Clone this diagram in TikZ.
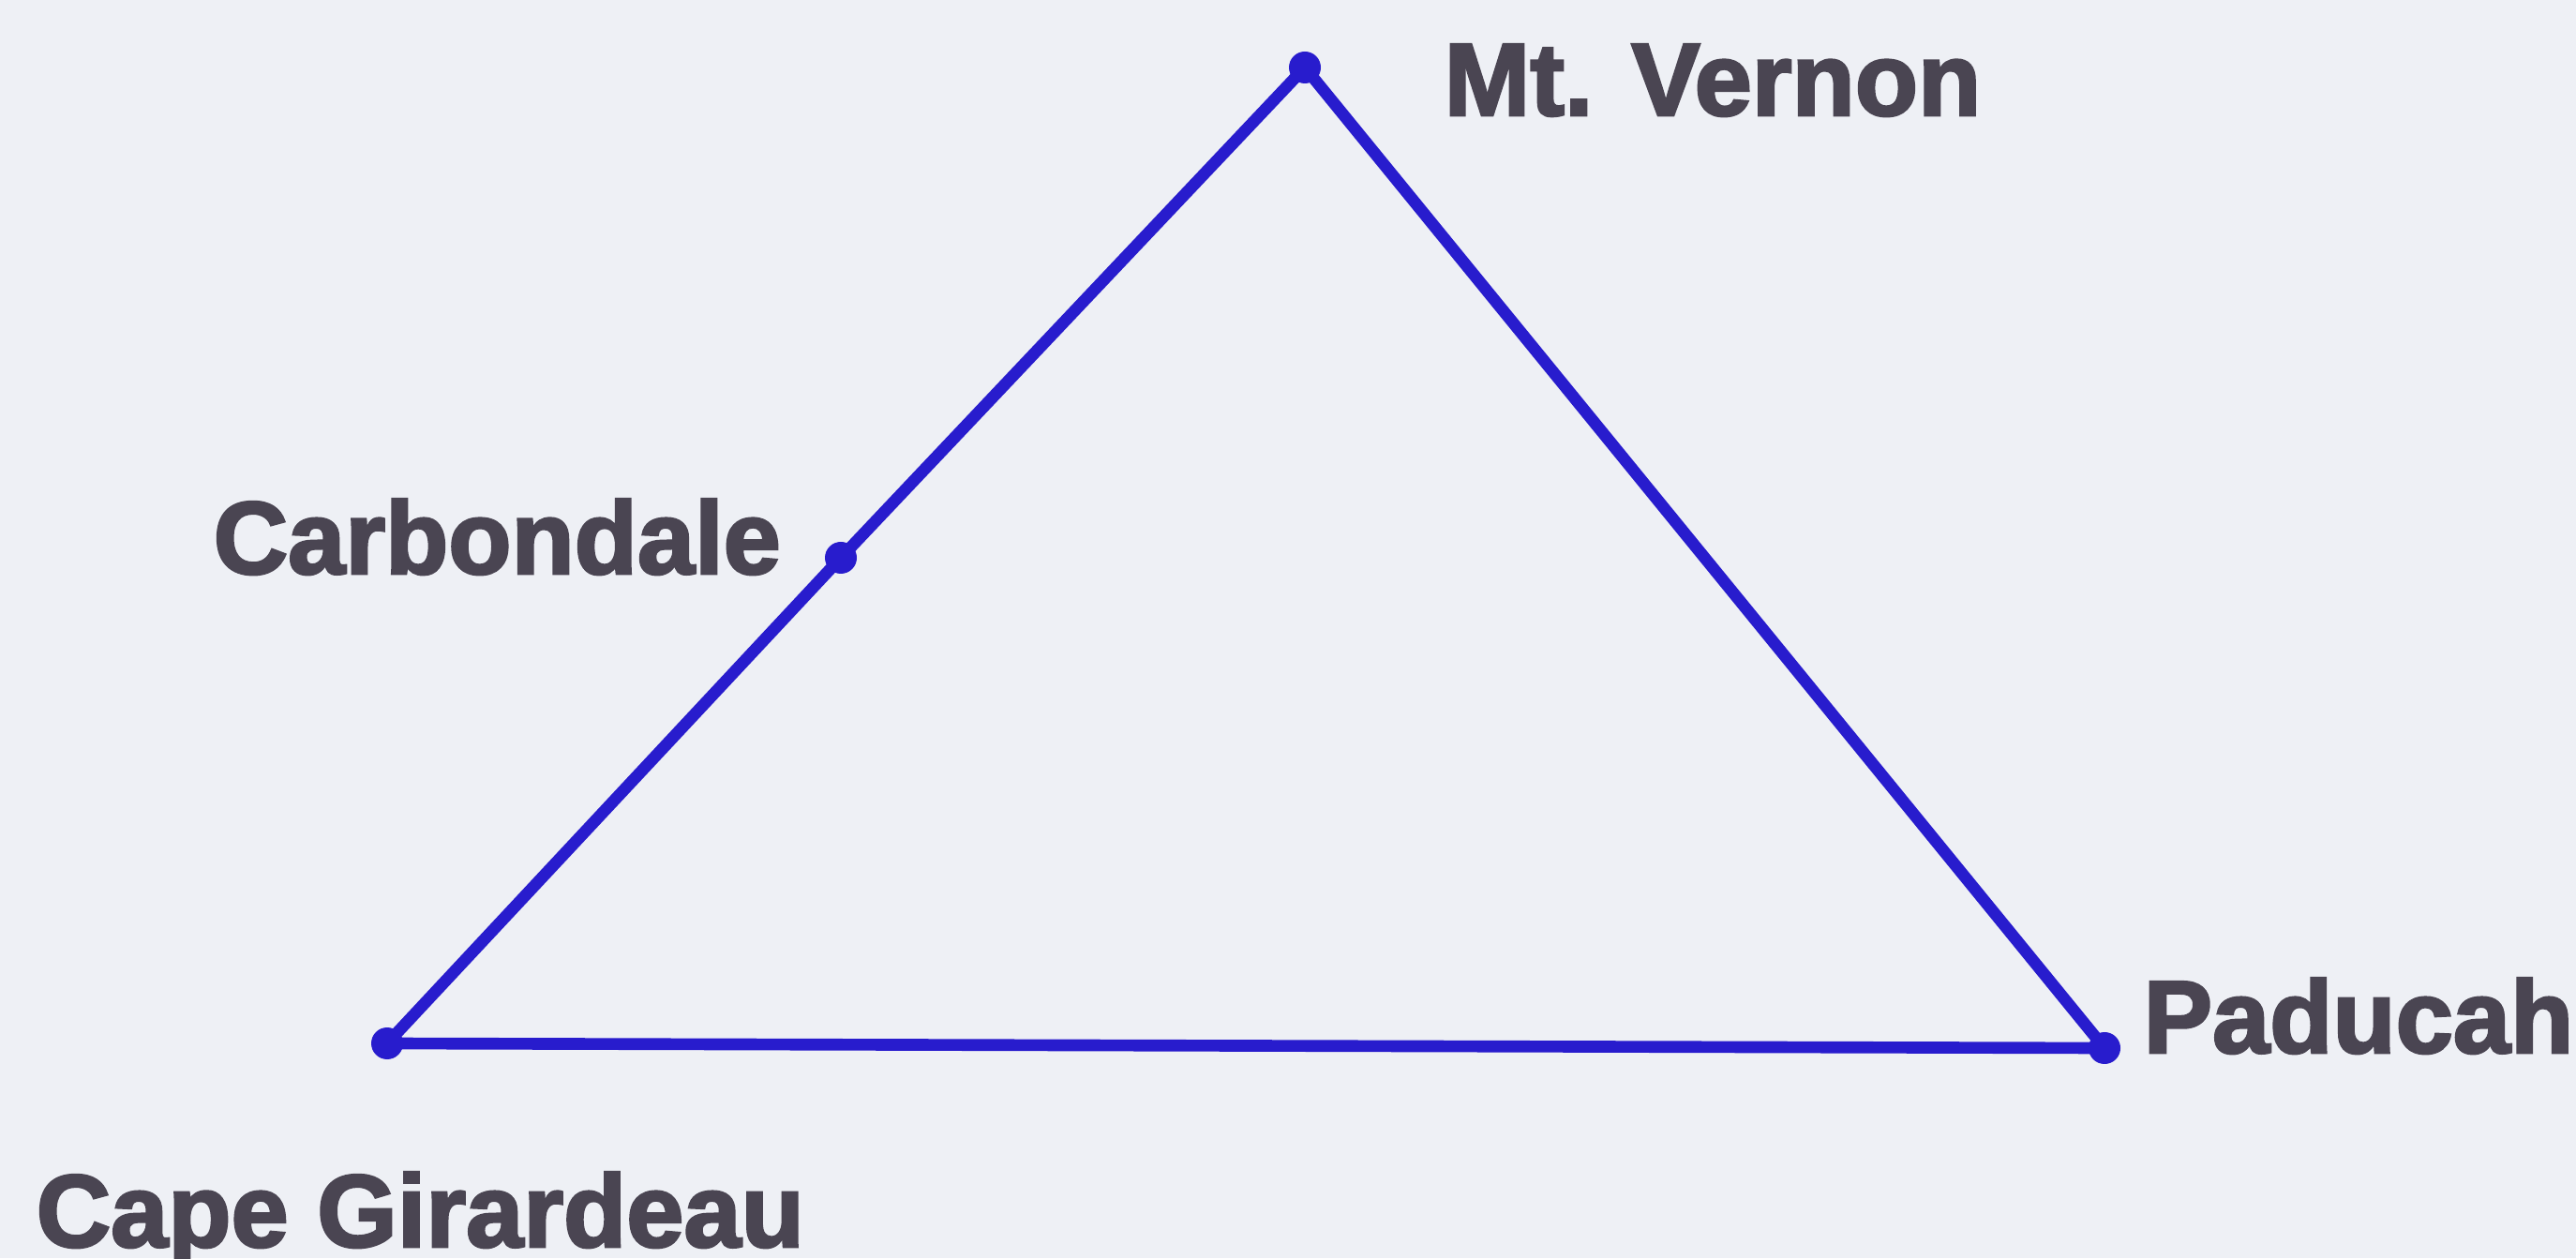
\documentclass[tikz,border=0pt]{standalone}
\usepackage{fontspec}
\setmainfont{Liberation Sans}[BoldFeatures={FakeBold=2.5}]
\definecolor{bg}{RGB}{238,240,245}
\definecolor{routeblue}{RGB}{40,28,205}
\definecolor{labelgray}{RGB}{74,69,82}
\begin{document}
\begin{tikzpicture}[
  route/.style={draw=routeblue, line width=3.6pt, line cap=round, line join=round},
  city/.style={circle, fill=routeblue, inner sep=0pt, minimum size=0.34cm},
  citylabel/.style={anchor=base west, inner sep=0pt, text=labelgray, font=\fontsize{31.3pt}{36pt}\selectfont\bfseries}
]
\fill[bg] (0,0) rectangle (27.48,13.42);
\useasboundingbox (0,0) rectangle (27.48,13.42);
\node[city] (mv) at (13.92,12.70) {};
\node[city] (cb) at (8.97,7.47) {};
\node[city] (cg) at (4.13,2.29) {};
\node[city] (pd) at (22.45,2.24) {};
\draw[route] (cg.center) -- (cb.center) -- (mv.center) -- (pd.center) -- (cg.center);
\node[citylabel] (mvl) at (15.40,12.19) {Mt. Vernon};
\node[citylabel] (cbl) at (2.27,7.30) {Carbondale};
\node[citylabel] (pdl) at (22.86,2.19) {Paducah};
\node[citylabel] (cgl) at (0.38,0.12) {Cape Girardeau};
\end{tikzpicture}
\end{document}
